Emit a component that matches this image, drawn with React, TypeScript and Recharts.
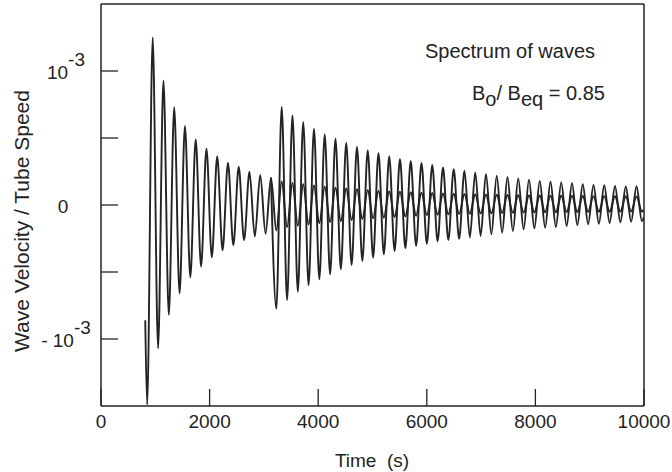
import { LineChart, Line, XAxis, YAxis, Customized } from 'recharts'

// times of the wave crests and troughs (s)
const HALF_CYCLE_TIMES = [
  952, 1051, 1150, 1249, 1348, 1447, 1546, 1645, 1744, 1843,
  1942, 2041, 2140, 2239, 2338, 2437, 2536, 2635, 2734, 2833,
  2932, 3031, 3130, 3229, 3328, 3427, 3526, 3625, 3724, 3823,
  3922, 4021, 4120, 4219, 4318, 4417, 4516, 4615, 4714, 4813,
  4912, 5011, 5110, 5209, 5308, 5407, 5506, 5605, 5704, 5803,
  5902, 6001, 6100, 6199, 6298, 6397, 6496, 6595, 6694, 6793,
  6892, 6991, 7090, 7189, 7288, 7387, 7486, 7585, 7684, 7783,
  7882, 7981, 8080, 8179, 8278, 8377, 8476, 8575, 8674, 8773,
  8872, 8971, 9070, 9169, 9268, 9367, 9466, 9565, 9664, 9763,
  9862, 9961,
]

const END_TIME = 10000

// first wave: onset, then one value per crest / trough (units of 10^-3)
const LEAD_TIMES = [815, 850]
const LEAD_VALUES = [-0.86, -1.49]
const WAVE_A_VALUES = [
  1.25, -1.07, 0.93, -0.82, 0.73, -0.66, 0.59, -0.54, 0.49, -0.46,
  0.42, -0.39, 0.363, -0.338, 0.316, -0.3, 0.286, -0.263, 0.248, -0.236,
  0.224, -0.214, 0.204, -0.19, 0.175, -0.165, 0.165, -0.155, 0.155, -0.145,
  0.145, -0.135, 0.137, -0.128, 0.13, -0.12, 0.123, -0.112, 0.117, -0.105,
  0.112, -0.1, 0.107, -0.095, 0.103, -0.09, 0.099, -0.085, 0.095, -0.08,
  0.092, -0.076, 0.089, -0.073, 0.086, -0.07, 0.084, -0.068, 0.082, -0.066,
  0.08, -0.064, 0.078, -0.062, 0.076, -0.06, 0.075, -0.058, 0.073, -0.057,
  0.072, -0.056, 0.071, -0.055, 0.07, -0.054, 0.069, -0.053, 0.068, -0.052,
  0.067, -0.051, 0.066, -0.05, 0.066, -0.05, 0.065, -0.049, 0.065, -0.048,
  0.064, -0.048,
]
const WAVE_A_END = -0.035

// second wave, branching off at t = 3130 s
const WAVE_B_START = 3130
const WAVE_B_VALUES = [
  0.204, -0.774, 0.731, -0.709, 0.669, -0.647, 0.619, -0.599, 0.569, -0.554,
  0.527, -0.517, 0.495, -0.48, 0.463, -0.448, 0.433, -0.418, 0.408, -0.393,
  0.386, -0.368, 0.363, -0.343, 0.343, -0.323, 0.328, -0.306, 0.313, -0.289,
  0.299, -0.271, 0.28, -0.262, 0.268, -0.252, 0.256, -0.242, 0.243, -0.231,
  0.231, -0.219, 0.218, -0.207, 0.209, -0.195, 0.199, -0.182, 0.189, -0.175,
  0.18, -0.169, 0.174, -0.164, 0.169, -0.157, 0.162, -0.15, 0.155, -0.144,
  0.15, -0.14, 0.147, -0.134, 0.142, -0.129, 0.138, -0.125, 0.14, -0.12,
]
const WAVE_B_END = -0.09

const X_TICKS = [0, 2000, 4000, 6000, 8000, 10000]
const Y_TICKS = [-1, -0.5, 0, 0.5, 1]
const Y_TICK_LABELS: Record<string, [string, string]> = {
  '1': ['10', '-3'],
  '0': ['0', ''],
  '-1': ['- 10', '-3'],
}

const INK = '#232323'
const FONT = '"Liberation Sans", Arial, Helvetica, sans-serif'

const waveA = [
  ...LEAD_TIMES.map((t, i) => ({ t, v: LEAD_VALUES[i] })),
  ...HALF_CYCLE_TIMES.map((t, i) => ({ t, v: WAVE_A_VALUES[i] })),
  { t: END_TIME, v: WAVE_A_END },
]

const bOffset = HALF_CYCLE_TIMES.indexOf(WAVE_B_START)
const waveB = [
  ...WAVE_B_VALUES.map((v, i) => ({ t: HALF_CYCLE_TIMES[bOffset + i], v })),
  { t: END_TIME, v: WAVE_B_END },
]

function XTick({ x, payload }: any) {
  return (
    <text x={x} y={428} textAnchor="middle" fontSize={19} fill={INK} fontFamily={FONT}>
      {payload.value}
    </text>
  )
}

function YTick({ y, payload }: any) {
  const lab = Y_TICK_LABELS[String(payload.value)]
  if (!lab) return <g />
  return (
    <text x={lab[1] ? 66 : 63} y={y + 8} textAnchor="middle" fontSize={19} fill={INK} fontFamily={FONT}>
      {lab[0]}
      {lab[1] && <tspan dy={-13}>{lab[1]}</tspan>}
    </text>
  )
}

function NoTick() {
  return <g />
}

function Annotation() {
  return (
    <g fill={INK} fontFamily={FONT}>
      <text x={510} y={58} textAnchor="middle" fontSize={20}>
        Spectrum of waves
      </text>
      <text x={472} y={100} fontSize={20}>
        B<tspan dy={6}>o</tspan>
        <tspan dy={-6}>/ B</tspan>
        <tspan dy={6}>eq</tspan>
        <tspan dy={-6}> = 0.85</tspan>
      </text>
      <text x={372} y={467} textAnchor="middle" fontSize={19}>
        {'Time\u00a0 (s)'}
      </text>
      <text x={29} y={221} textAnchor="middle" fontSize={21} transform="rotate(-90, 29, 221)">
        Wave Velocity / Tube Speed
      </text>
    </g>
  )
}

export default function App() {
  return (
    <div style={{ position: 'absolute', left: 0, top: 0, background: '#fff' }}>
      <LineChart width={672} height={472} margin={{ top: 0, right: 0, bottom: 0, left: 0 }}>
        <XAxis
          dataKey="t"
          type="number"
          domain={[0, 10000]}
          ticks={X_TICKS}
          height={66}
          tickSize={-17}
          tickMargin={26}
          tick={<XTick />}
          axisLine={{ stroke: INK, strokeWidth: 1.5 }}
          tickLine={{ stroke: INK, strokeWidth: 1.3 }}
          allowDataOverflow
        />
        <XAxis
          xAxisId="top"
          orientation="top"
          dataKey="t"
          type="number"
          domain={[0, 10000]}
          ticks={X_TICKS}
          height={4}
          tickSize={-17}
          tick={<NoTick />}
          axisLine={{ stroke: INK, strokeWidth: 1.5 }}
          tickLine={{ stroke: INK, strokeWidth: 1.3 }}
        />
        <YAxis
          type="number"
          domain={[-1.5, 1.5]}
          ticks={Y_TICKS}
          width={101}
          tickSize={-17}
          tickMargin={40}
          tick={<YTick />}
          axisLine={{ stroke: INK, strokeWidth: 1.5 }}
          tickLine={{ stroke: INK, strokeWidth: 1.3 }}
          allowDataOverflow
        />
        <YAxis
          yAxisId="right"
          orientation="right"
          type="number"
          domain={[-1.5, 1.5]}
          ticks={Y_TICKS}
          width={28}
          tickSize={-17}
          tick={<NoTick />}
          axisLine={{ stroke: INK, strokeWidth: 1.5 }}
          tickLine={{ stroke: INK, strokeWidth: 1.3 }}
        />
        <Line
          data={waveA}
          dataKey="v"
          type="monotone"
          stroke={INK}
          strokeWidth={1.9}
          dot={false}
          isAnimationActive={false}
        />
        <Line
          data={waveB}
          dataKey="v"
          type="monotone"
          stroke={INK}
          strokeWidth={1.9}
          dot={false}
          isAnimationActive={false}
        />
        <Customized component={<Annotation />} />
      </LineChart>
    </div>
  )
}
